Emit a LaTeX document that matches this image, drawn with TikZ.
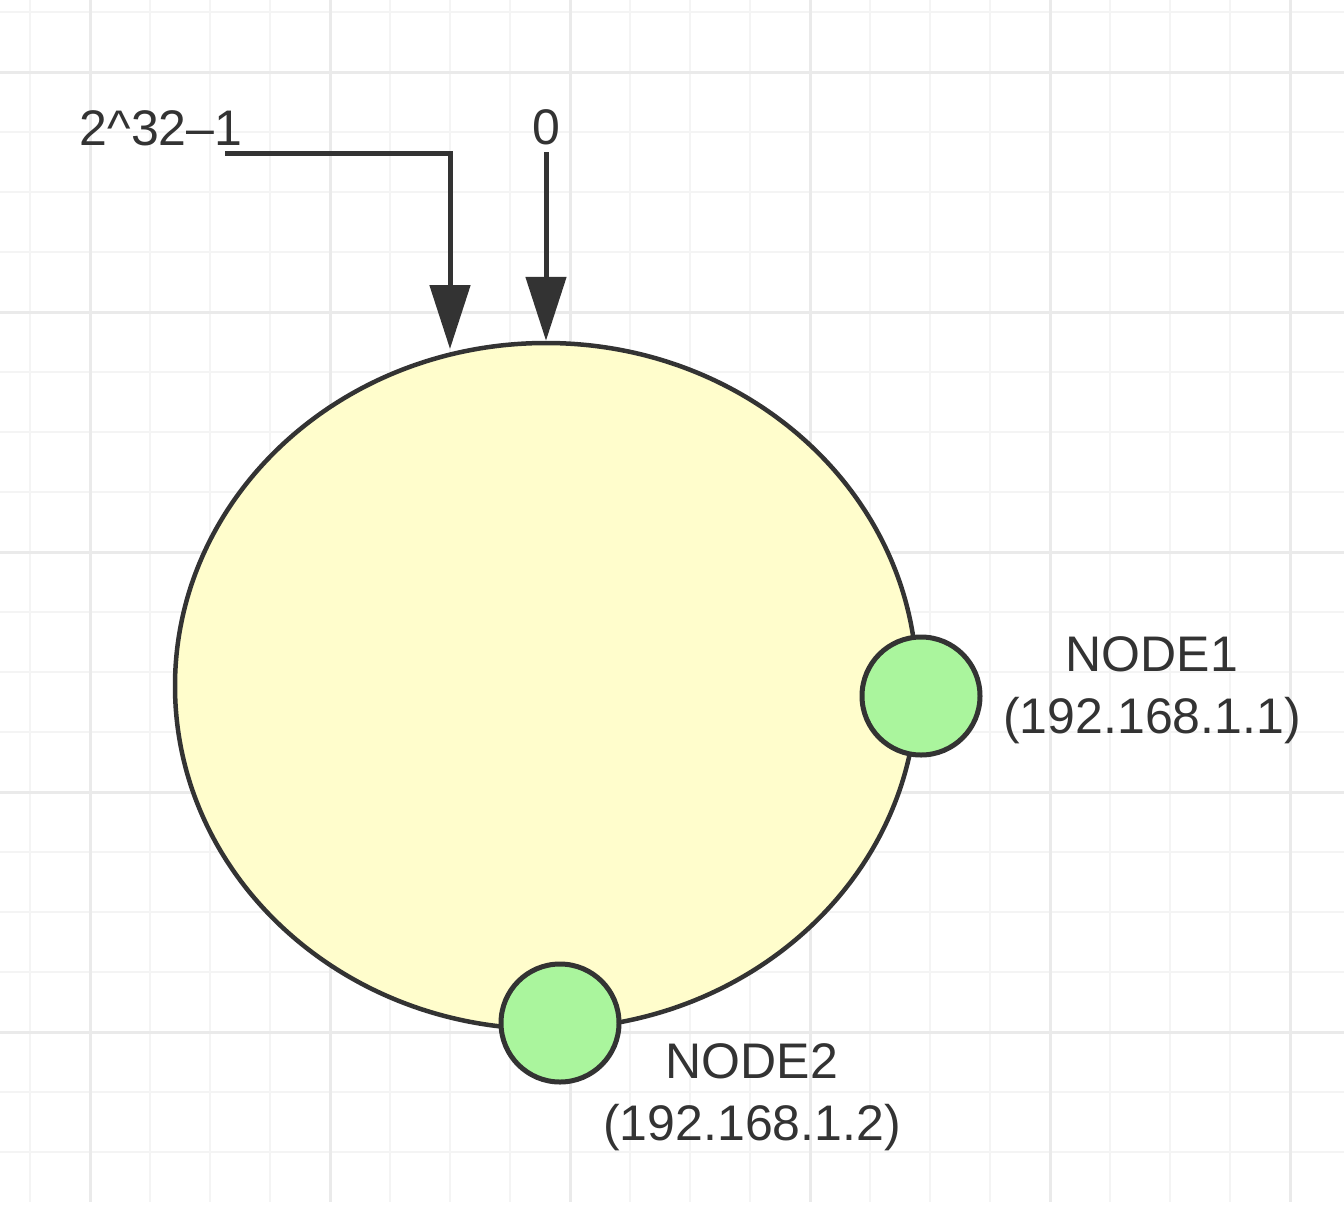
\documentclass[tikz,border=0pt]{standalone}
\usepackage{fontspec}
\setmainfont{Liberation Sans}
\usetikzlibrary{arrows.meta,shapes.geometric}
\definecolor{gridminor}{HTML}{F4F4F4}
\definecolor{gridmajor}{HTML}{EAEAEA}
\definecolor{ink}{HTML}{333333}
\definecolor{ringfill}{HTML}{FFFDCC}
\definecolor{hostfill}{HTML}{AAF59D}
\tikzset{
  label text/.style={text=ink, font=\fontsize{50}{62}\selectfont, inner sep=0pt, align=center},
  host/.style={circle, draw=ink, line width=5pt, fill=hostfill, minimum size=118pt, inner sep=0pt},
  pointer/.style={draw=ink, line width=5pt, -{Triangle[width=40pt,length=64pt]}},
}
\begin{document}
\begin{tikzpicture}[x=1pt,y=-1pt]
\useasboundingbox (0,0) rectangle (1344,1208);
\fill[white] (0,0) rectangle (1344,1208);
% grid
\foreach \gx in {30,150,210,270,390,450,510,630,690,750,870,930,990,1110,1170,1230}
  \draw[gridminor, line width=2.5pt] (\gx,0) -- (\gx,1202);
\foreach \gy in {12,132,192,252,372,432,492,612,672,732,852,912,972,1092,1152}
  \draw[gridminor, line width=2.5pt] (0,\gy) -- (1344,\gy);
\foreach \gx in {90,330,570,810,1050,1290}
  \draw[gridmajor, line width=3pt] (\gx,0) -- (\gx,1202);
\foreach \gy in {72,312,552,792,1032}
  \draw[gridmajor, line width=3pt] (0,\gy) -- (1344,\gy);

% ring
\node[ellipse, draw=ink, line width=4.5pt, fill=ringfill, minimum width=742pt, minimum height=686pt, inner sep=0pt] (ring) at (546,686) {};

% hosts
\node[host] (node1) at (921,696) {};
\node[host] (node2) at (560,1023) {};

% labels
\node[label text] (maxlabel) at (161,128) {2\^{}32–1};
\node[label text] (zerolabel) at (546,127) {0};
\node[label text] (node1label) at (1152,690) {NODE1\\(192.168.1.1)};
\node[label text] (node2label) at (752,1097) {NODE2\\(192.168.1.2)};

% pointers
\coordinate (maxstart) at (225,153);
\coordinate (maxtip) at (450,349);
\coordinate (zerostart) at (546,152);
\draw[pointer] (maxstart) -| (maxtip);
\draw[pointer] (zerostart) -- (ring.north);
\end{tikzpicture}
\end{document}
